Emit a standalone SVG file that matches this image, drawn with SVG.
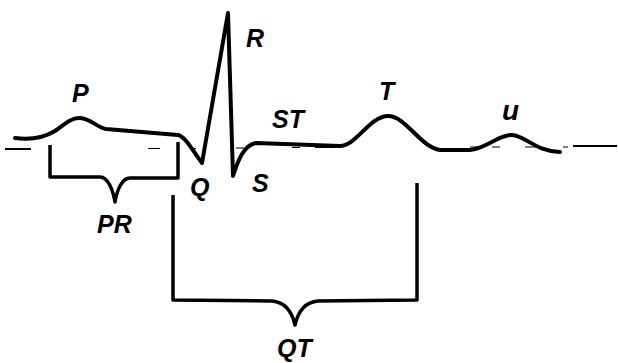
<svg xmlns="http://www.w3.org/2000/svg" width="618" height="363" viewBox="0 0 618 363">
<style>
.w{fill:none;stroke:#000;stroke-width:4;stroke-linejoin:round;stroke-linecap:round}
.b{fill:none;stroke:#000;stroke-width:3.5;stroke-linejoin:round;stroke-linecap:butt}
.base{fill:none;stroke:#000;stroke-width:1.2}
.bs{fill:none;stroke:#000;stroke-width:2}
.t{font-family:"Liberation Sans",Arial,sans-serif;font-weight:bold;font-style:italic;font-size:25px;fill:#000}
</style>
<rect width="618" height="363" fill="#fff"/>
<g id="baseline">
<path class="bs" d="M5,149 L31,149"/>
<path class="base" d="M148,148.5 L160,148.5 M190,148.5 L196,148.5 M236,148 L244,148 M292,147.5 L300,147.5 M315,147.5 L335,147.5 M470,147 L482,147 M492,147 L500,147 M525,147 L540,147 M563,147 L568,147"/>
<path class="bs" d="M573,146 L617,146"/>
</g>
<g id="wave">
<path class="w" d="M15,138 C30,140 45,137 55,131 C65,124 71,118 79,118 C90,118 96,127 106,129 L178,135 C186,137 192,150 202,163 L228,13 L233,176 C238,160 244,145 256,143 L340,146 C356,146 370,116 388,116 C406,116 420,147 440,150 L470,150 C485,149 500,134 512,135 C526,136 535,151 560,152"/>
</g>
<g id="connectors">
<path id="pr-bracket" class="b" d="M50,145 L50,177 L100,177 C108,177 113,190 115,202 C117,190 122,178 130,178 L178,178 L178,142"/>
<path id="qt-bracket" class="b" d="M173,195 L173,300 L272,301 C285,302 292,312 295,325 C298,312 305,302 318,301 L417,300 L417,183"/>
</g>
<g id="labels">
<text class="t" x="72" y="102">P</text>
<text class="t" x="246" y="47">R</text>
<text class="t" x="190" y="196">Q</text>
<text class="t" x="252" y="192">S</text>
<text class="t" x="272" y="128">ST</text>
<text class="t" x="379" y="100">T</text>
<text class="t" x="502" y="120" style="font-size:28px">u</text>
<text class="t" x="97" y="233">PR</text>
<text class="t" x="277" y="357">QT</text>
</g>
</svg>
